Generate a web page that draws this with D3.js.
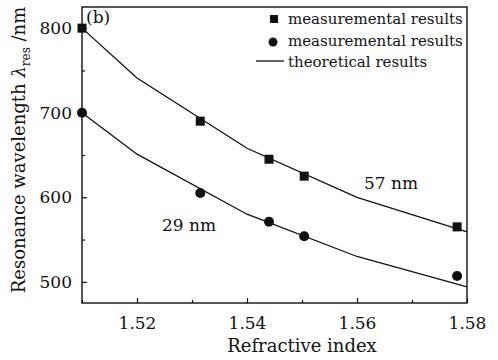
<!DOCTYPE html>
<html>
<head>
<meta charset="utf-8">
<script src="https://cdn.jsdelivr.net/npm/d3@7/dist/d3.min.js"></script>
<style>
  html, body { margin: 0; padding: 0; background: #fff; }
  svg text { font-family: "DejaVu Serif", serif; fill: #111; }
</style>
</head>
<body>
<svg id="chart" width="498" height="360"></svg>
<script>
// Measured resonance wavelengths (nm) versus refractive index
const measuredIndex = [1.51, 1.5315, 1.544, 1.5504, 1.5782];
const measuredSquare = [800, 690, 645, 625, 565];
const measuredCircle = [700, 605, 571, 554, 507];

// Theoretical curves
const theoryIndex = [1.51, 1.52, 1.54, 1.56, 1.58];
const theoryUpper = [800, 741, 658, 600, 559];
const theoryLower = [700, 651, 580, 530, 494];

const xMajor = [1.52, 1.54, 1.56, 1.58];
const xMinor = [1.51, 1.53, 1.55, 1.57];
const yMajor = [500, 600, 700, 800];
const yMinor = [550, 650, 750];

const legendLabels = ["measuremental results", "measuremental results", "theoretical results"];

const svg = d3.select("#chart");
const m = { left: 82, top: 7, right: 467, bottom: 303 };

const x = d3.scaleLinear().domain([1.51, 1.58]).range([m.left, m.right]);
const y = d3.scaleLinear().domain([475, 825]).range([m.bottom, m.top]);

const ink = "#111";
const serif = "DejaVu Serif";

// Frame
svg.append("rect")
  .attr("x", m.left).attr("y", m.top)
  .attr("width", m.right - m.left).attr("height", m.bottom - m.top)
  .attr("fill", "none").attr("stroke", ink).attr("stroke-width", 1.4);

// Bottom axis (inward ticks)
const xAxis = svg.append("g").attr("transform", `translate(0,${m.bottom})`)
  .call(d3.axisBottom(x).tickValues(xMajor).tickFormat(d3.format(".2f"))
    .tickSizeInner(-5).tickSizeOuter(0).tickPadding(14));
xAxis.attr("font-family", serif);
xAxis.select(".domain").remove();
xAxis.selectAll("line").attr("stroke", ink).attr("stroke-width", 1.2);
xAxis.selectAll("text").attr("font-size", 17);
svg.append("g").attr("transform", `translate(0,${m.bottom})`)
  .call(d3.axisBottom(x).tickValues(xMinor).tickFormat("").tickSizeInner(-3).tickSizeOuter(0))
  .call(g => g.select(".domain").remove())
  .selectAll("line").attr("stroke", ink).attr("stroke-width", 1.2);

// Left axis (inward ticks)
const yAxis = svg.append("g").attr("transform", `translate(${m.left},0)`)
  .call(d3.axisLeft(y).tickValues(yMajor).tickFormat(d3.format("d"))
    .tickSizeInner(-5).tickSizeOuter(0).tickPadding(10));
yAxis.attr("font-family", serif);
yAxis.select(".domain").remove();
yAxis.selectAll("line").attr("stroke", ink).attr("stroke-width", 1.2);
yAxis.selectAll("text").attr("font-size", 17);
svg.append("g").attr("transform", `translate(${m.left},0)`)
  .call(d3.axisLeft(y).tickValues(yMinor).tickFormat("").tickSizeInner(-3).tickSizeOuter(0))
  .call(g => g.select(".domain").remove())
  .selectAll("line").attr("stroke", ink).attr("stroke-width", 1.2);

// Axis titles
svg.append("text")
  .attr("x", 302).attr("y", 352)
  .attr("text-anchor", "middle").attr("font-size", 18)
  .text("Refractive index");

const yt = svg.append("text")
  .attr("transform", `translate(25,150) rotate(-90)`)
  .attr("text-anchor", "middle").attr("font-size", 18);
yt.append("tspan").text("Resonance wavelength ");
yt.append("tspan").attr("font-style", "italic").text("λ");
yt.append("tspan").attr("font-size", 12).attr("dy", 5).text("res");
yt.append("tspan").attr("dy", -5).text(" /nm");

// Theoretical curves
const line = d3.line().x((d, i) => x(theoryIndex[i])).y(d => y(d));
[theoryUpper, theoryLower].forEach(s => {
  svg.append("path").datum(s).attr("d", line)
    .attr("fill", "none").attr("stroke", ink).attr("stroke-width", 1.3);
});

// Measured points
const sq = 9;
svg.append("g").selectAll("rect").data(measuredSquare).join("rect")
  .attr("x", (d, i) => x(measuredIndex[i]) - sq / 2)
  .attr("y", d => y(d) - sq / 2)
  .attr("width", sq).attr("height", sq).attr("fill", ink);
svg.append("g").selectAll("circle").data(measuredCircle).join("circle")
  .attr("cx", (d, i) => x(measuredIndex[i]))
  .attr("cy", d => y(d)).attr("r", 5).attr("fill", ink);

// Annotations
svg.append("text").attr("x", 86).attr("y", 23).attr("font-size", 17).text("(b)");
svg.append("text").attr("x", 364).attr("y", 189).attr("font-size", 17).text("57 nm");
svg.append("text").attr("x", 162).attr("y", 231).attr("font-size", 17).text("29 nm");

// Legend
const lg = svg.append("g");
lg.append("rect").attr("x", 270).attr("y", 15).attr("width", 8).attr("height", 8).attr("fill", ink);
lg.append("circle").attr("cx", 273).attr("cy", 42).attr("r", 4.5).attr("fill", ink);
lg.append("line").attr("x1", 256).attr("x2", 284).attr("y1", 61).attr("y2", 61)
  .attr("stroke", ink).attr("stroke-width", 1.3);
legendLabels.forEach((t, i) => {
  lg.append("text").attr("x", 288).attr("y", 24 + i * 21.5).attr("font-size", 15).text(t);
});
</script>
</body>
</html>
